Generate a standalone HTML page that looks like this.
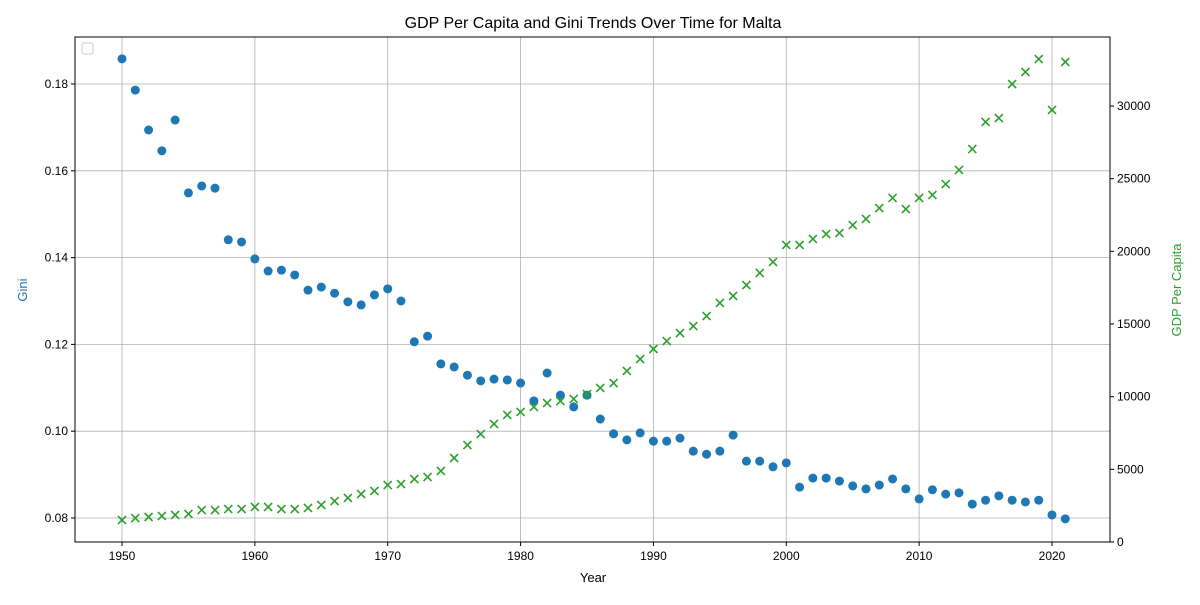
<!DOCTYPE html>
<html><head><meta charset="utf-8"><style>
body{margin:0;background:#fff;font-family:"Liberation Sans","DejaVu Sans",sans-serif}
svg text{font-family:"Liberation Sans","DejaVu Sans",sans-serif}
</style></head><body>
<svg id="c" width="1200" height="600"></svg>
<script>
const years=[];for(let y=1950;y<=2021;y++)years.push(y);
const gini=[0.1858,0.1786,0.1694,0.1646,0.1717,0.1549,0.1565,0.1560,0.1441,0.1436,0.1397,0.1369,0.1371,0.1360,0.1325,0.1332,0.1318,0.1298,0.1291,0.1314,0.1328,0.1300,0.1206,0.1219,0.1155,0.1148,0.1129,0.1116,0.1120,0.1118,0.1111,0.1070,0.1134,0.1083,0.1056,0.1083,0.1028,0.0994,0.0980,0.0996,0.0977,0.0977,0.0984,0.0954,0.0947,0.0954,0.0991,0.0931,0.0931,0.0918,0.0927,0.0871,0.0892,0.0892,0.0885,0.0874,0.0867,0.0876,0.0890,0.0867,0.0844,0.0865,0.0855,0.0858,0.0832,0.0841,0.0851,0.0841,0.0837,0.0841,0.0807,0.0798];
const gdp=[1510,1650,1720,1790,1860,1930,2200,2200,2270,2270,2410,2410,2270,2270,2340,2550,2820,3030,3300,3510,3920,3990,4330,4470,4890,5780,6670,7430,8120,8740,8950,9290,9560,9700,9840,10180,10600,10940,11770,12590,13280,13830,14380,14860,15550,16450,16930,17680,18510,19270,20440,20440,20850,21190,21260,21810,22230,22980,23670,22910,23670,23880,24630,25600,27040,28900,29170,31510,32340,33230,29730,33030];
const xTicks=[1950,1960,1970,1980,1990,2000,2010,2020];
const yLTicks=[0.08,0.10,0.12,0.14,0.16,0.18];
const yRTicks=[0,5000,10000,15000,20000,25000,30000];
const L=75,R=1110,T=37,B=542;
const x=v=>122+(v-1950)*(1052-122)/70;
const yl=v=>518-(v-0.08)*4340;
const yr=v=>542-v*(436/30000);
const svg=document.getElementById('c');const NS='http://www.w3.org/2000/svg';
function el(t,a,txt){const e=document.createElementNS(NS,t);for(const k in a)e.setAttribute(k,a[k]);if(txt!==undefined)e.textContent=txt;svg.appendChild(e);return e;}
xTicks.forEach(t=>{const g=el('line',{x1:x(t),x2:x(t),y1:T,y2:B,stroke:'#b0b0b0','stroke-width':0.8});

el('line',{x1:x(t),x2:x(t),y1:B,y2:B+4,stroke:'#000'});
const l=el('text',{x:x(t),y:B+18,'text-anchor':'middle','font-size':12},t);
});
yLTicks.forEach(t=>{const g=el('line',{x1:L,x2:R,y1:yl(t),y2:yl(t),stroke:'#b0b0b0','stroke-width':0.8});

el('line',{x1:L-4,x2:L,y1:yl(t),y2:yl(t),stroke:'#000'});
const l=el('text',{x:L-7,y:yl(t)+4,'text-anchor':'end','font-size':12},t.toFixed(2));
});
yRTicks.forEach(t=>{el('line',{x1:R,x2:R+4,y1:yr(t),y2:yr(t),stroke:'#000'});
const l=el('text',{x:R+7,y:yr(t)+4,'font-size':12},t);
});
years.forEach((yv,i)=>{const c=el('circle',{cx:x(yv),cy:yl(gini[i]),r:4.5,fill:'#1f77b4'});
});
years.forEach((yv,i)=>{const cx=x(yv),cy=yr(gdp[i]),s=4;
const p=el('path',{d:`M${cx-s},${cy-s}L${cx+s},${cy+s}M${cx-s},${cy+s}L${cx+s},${cy-s}`,stroke:'#2ca02c','stroke-width':1.6});
});
const f=el('rect',{x:L,y:T,width:R-L,height:B-T,fill:'none',stroke:'#000','stroke-width':1});

const lg=el('rect',{x:82,y:43,width:11,height:11,fill:'#fff',stroke:'#ccc',rx:2});

const ti=el('text',{x:593,y:28,'text-anchor':'middle','font-size':16},'GDP Per Capita and Gini Trends Over Time for Malta');

const xt=el('text',{x:593,y:582,'text-anchor':'middle','font-size':13},'Year');

const yt=el('text',{x:0,y:0,'text-anchor':'middle','font-size':13,fill:'#1f77b4',transform:'translate(27,290) rotate(-90)'},'Gini');

const rt=el('text',{x:0,y:0,'text-anchor':'middle','font-size':13,fill:'#2ca02c',transform:'translate(1181,290) rotate(-90)'},'GDP Per Capita');

</script>
</body></html>
